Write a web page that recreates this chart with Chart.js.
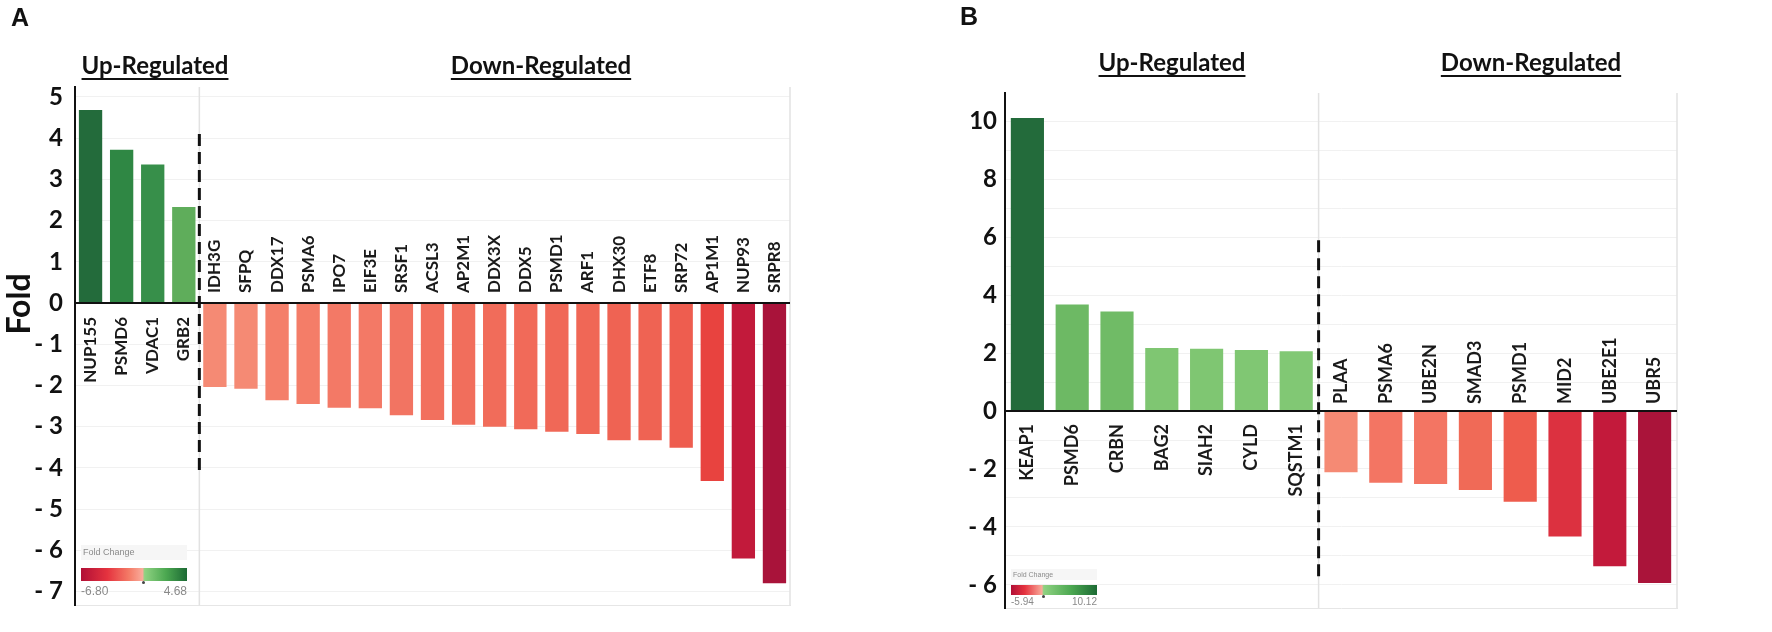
<!DOCTYPE html>
<html>
<head>
<meta charset="utf-8">
<script src="https://cdn.jsdelivr.net/npm/chart.js@4.4.0/dist/chart.umd.min.js"></script>
<style>
  body { margin: 0; background: #fff; width: 1772px; height: 632px; position: relative; overflow: hidden; font-family: Lato, "Open Sans", sans-serif; }
  canvas { position: absolute; top: 0; }
  .txt { position: absolute; white-space: nowrap; color: #111; }
  .panel { font-family: "Liberation Sans", Arial, sans-serif; font-weight: bold; font-size: 25px; }
  .head { font-weight: bold; font-size: 24px; line-height: 24px; transform: translateX(-50%);
          text-decoration: underline; text-decoration-thickness: 2px; text-underline-offset: 4px; }
  .fold { font-weight: bold; font-size: 32px; line-height: 32px; transform: translate(-50%, -50%) rotate(-90deg); }
  .legend { position: absolute; color: #8a8a8a; font-family: "Liberation Sans", Arial, sans-serif; }
  .legend .cap { background: #f6f6f6; padding-left: 2px; }
  .legend .bar { position: relative; }
  .legend .bar i { position: absolute; bottom: -3px; width: 3px; height: 3px; background: #444; border-radius: 50%; }
  .legend .nums { display: flex; justify-content: space-between; }
</style>
</head>
<body>
<canvas id="chartA" width="793" height="632" style="left:0px"></canvas>
<canvas id="chartB" width="780" height="632" style="left:900px"></canvas>

<div class="txt panel" style="left:11px; top:3px;">A</div>
<div class="txt panel" style="left:960px; top:2px;">B</div>
<div class="txt head" style="left:155px; top:53px;">Up-Regulated</div>
<div class="txt head" style="left:541px; top:53px;">Down-Regulated</div>
<div class="txt head" style="left:1172px; top:50px;">Up-Regulated</div>
<div class="txt head" style="left:1531px; top:50px;">Down-Regulated</div>
<div class="txt fold" style="left:18px; top:304px;">Fold</div>

<div class="legend" style="left:81px; top:545px; width:106px;">
  <div class="cap" style="font-size:9px; line-height:15px;">Fold Change</div>
  <div class="bar" style="margin-top:8px; height:13px; background:linear-gradient(90deg,#b10f36 0%,#e5333f 25%,#f47a66 45%,#f9ab9b 58%,#8fd282 60%,#4ca851 80%,#1c6a34 100%);"><i style="left:58%"></i></div>
  <div class="nums" style="font-size:12px; line-height:14px; margin-top:3px;"><span>-6.80</span><span>4.68</span></div>
</div>
<div class="legend" style="left:1011px; top:569px; width:86px;">
  <div class="cap" style="font-size:7px; line-height:11px;">Fold Change</div>
  <div class="bar" style="margin-top:5px; height:10px; background:linear-gradient(90deg,#b10f36 0%,#e5333f 16%,#f9ab9b 36%,#8fd282 38%,#4ca851 70%,#1c6a34 100%);"><i style="left:36%"></i></div>
  <div class="nums" style="font-size:10px; line-height:12px; margin-top:1px;"><span>-5.94</span><span>10.12</span></div>
</div>

<script>
// panel A: fold change per gene
const genesA = ['NUP155', 'PSMD6', 'VDAC1', 'GRB2', 'IDH3G', 'SFPQ', 'DDX17', 'PSMA6', 'IPO7', 'EIF3E',
  'SRSF1', 'ACSL3', 'AP2M1', 'DDX3X', 'DDX5', 'PSMD1', 'ARF1', 'DHX30', 'ETF8', 'SRP72', 'AP1M1', 'NUP93', 'SRPR8'];
const foldA = [4.68, 3.72, 3.36, 2.33, -2.04, -2.08, -2.36, -2.45, -2.54, -2.55,
  -2.72, -2.84, -2.95, -3.00, -3.06, -3.12, -3.18, -3.33, -3.33, -3.51, -4.32, -6.20, -6.80];
const colorsA = ['#236b3b', '#2f8744', '#378f4a', '#5fad5b', '#f58a74', '#f58a74', '#f47f6a', '#f47d68', '#f37966', '#f37966',
  '#f27462', '#f2705e', '#f16e5c', '#f16c5a', '#f16a59', '#f06857', '#f06756', '#ef6353', '#ef6353', '#ee5d4f', '#e8433f', '#c21a3b', '#a9133a'];

// panel B
const genesB = ['KEAP1', 'PSMD6', 'CRBN', 'BAG2', 'SIAH2', 'CYLD', 'SQSTM1',
  'PLAA', 'PSMA6', 'UBE2N', 'SMAD3', 'PSMD1', 'MID2', 'UBE2E1', 'UBR5'];
const foldB = [10.12, 3.68, 3.44, 2.18, 2.15, 2.11, 2.06,
  -2.11, -2.48, -2.52, -2.73, -3.13, -4.33, -5.36, -5.94];
const colorsB = ['#236b3b', '#6db964', '#70bb66', '#7fc672', '#7fc672', '#80c773', '#81c874',
  '#f58a74', '#f37563', '#f37563', '#f06a57', '#ee5c4d', '#dc3140', '#c31a3b', '#aa143a'];

// draws zero line, separators and the gene names next to the bars
const geneLabels = {
  id: 'geneLabels',
  afterDatasetsDraw(chart, args, opts) {
    const { ctx, chartArea: a, scales: { x, y } } = chart;
    const y0 = y.getPixelForValue(0);
    const sepX = (x.getPixelForValue(opts.split - 1) + x.getPixelForValue(opts.split)) / 2;
    ctx.save();
    ctx.strokeStyle = '#e2e2e2';
    ctx.lineWidth = 1.5;
    ctx.beginPath();
    ctx.moveTo(sepX, a.top); ctx.lineTo(sepX, a.bottom);
    ctx.moveTo(a.right, a.top); ctx.lineTo(a.right, a.bottom);
    ctx.stroke();

    ctx.strokeStyle = '#111';
    ctx.lineWidth = 2;
    ctx.beginPath();
    ctx.moveTo(a.left, y0); ctx.lineTo(a.right, y0);
    ctx.stroke();

    ctx.setLineDash([12, 6]);
    ctx.lineWidth = 3;
    ctx.beginPath();
    ctx.moveTo(sepX, y.getPixelForValue(opts.dash[0]));
    ctx.lineTo(sepX, y.getPixelForValue(opts.dash[1]));
    ctx.stroke();
    ctx.setLineDash([]);

    ctx.font = opts.font;
    ctx.fillStyle = '#1a1a1a';
    ctx.textBaseline = 'middle';
    chart.data.labels.forEach((name, i) => {
      const v = chart.data.datasets[0].data[i];
      ctx.save();
      ctx.translate(x.getPixelForValue(i), v >= 0 ? y0 + opts.below : y0 - opts.above);
      ctx.rotate(-Math.PI / 2);
      ctx.textAlign = v >= 0 ? 'right' : 'left';
      ctx.fillText(name, 0, 0);
      ctx.restore();
    });
    ctx.restore();
  }
};

function foldTick(v, every) {
  if (!Number.isInteger(v)) return null;
  if (v % every !== 0) return '';
  return v < 0 ? '- ' + Math.abs(v) : String(v);
}

function makeChart(id, genes, fold, colors, cfg) {
  return new Chart(document.getElementById(id), {
    type: 'bar',
    data: {
      labels: genes,
      datasets: [{ data: fold, backgroundColor: colors, barPercentage: cfg.barPct, categoryPercentage: 1 }]
    },
    options: {
      responsive: false,
      animation: false,
      layout: { padding: cfg.padding },
      plugins: {
        legend: { display: false },
        tooltip: { enabled: false },
        geneLabels: cfg.labels
      },
      scales: {
        x: {
          grid: { display: false },
          ticks: { display: false },
          border: { display: true, color: '#e6e6e6', width: 1 },
          afterFit: s => { s.height = 0; }
        },
        y: {
          min: cfg.min,
          max: cfg.max,
          afterFit: s => { s.width = cfg.axisWidth; },
          border: { display: true, color: '#111', width: 2 },
          grid: { color: '#f1f1f1', drawTicks: false },
          ticks: {
            stepSize: 1,
            includeBounds: false,
            autoSkip: false,
            padding: cfg.tickPad,
            color: '#111',
            font: { family: 'Lato', weight: 'bold', size: 24 },
            callback: v => foldTick(v, cfg.every)
          }
        }
      }
    },
    plugins: [geneLabels]
  });
}

makeChart('chartA', genesA, foldA, colorsA, {
  barPct: 0.75, padding: { top: 87, bottom: 24, left: 0, right: 3 },
  min: -7.34, max: 5.24, axisWidth: 75, tickPad: 12, every: 1,
  labels: { split: 4, dash: [4.1, -4.1], font: 'bold 17px Lato', below: 14, above: 10 }
});

makeChart('chartB', genesB, foldB, colorsB, {
  barPct: 0.74, padding: { top: 93, bottom: 24, left: 0, right: 3 },
  min: -6.8, max: 10.98, axisWidth: 105, tickPad: 8, every: 2,
  labels: { split: 7, dash: [5.9, -5.77], font: 'bold 18px Lato', below: 13, above: 7 }
});
</script>
</body>
</html>
